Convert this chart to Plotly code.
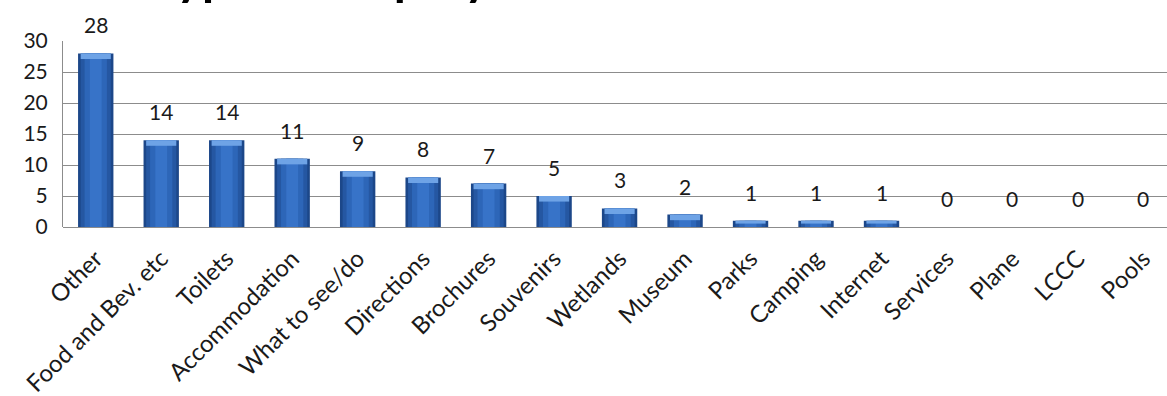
import plotly.graph_objects as go

categories = ["Other", "Food and Bev. etc", "Toilets", "Accommodation", "What to see/do",
              "Directions", "Brochures", "Souvenirs", "Wetlands", "Museum", "Parks",
              "Camping", "Internet", "Services", "Plane", "LCCC", "Pools"]
counts = [28, 14, 14, 11, 9, 8, 7, 5, 3, 2, 1, 1, 1, 0, 0, 0, 0]
y_ticks = [0, 5, 10, 15, 20, 25, 30]
title_text = "Type of enquiry"

W, H = 1167, 396
ML, MR, MT, MB = 63, 0, 41, 169
FONT = "Lato"

fig = go.Figure()
# layered bars to imitate the shaded cylinder look
layers = [(0.54, "#1c4789"), (0.46, "#2557a2"), (0.34, "#2d66b8"), (0.18, "#3773c8")]
for w, c in layers:
    fig.add_trace(go.Bar(x=categories, y=counts, width=w, marker=dict(color=c, line=dict(width=0)),
                         hoverinfo="skip", showlegend=False))
# light bevel cap at the top of each bar
cap = [min(0.9, v * 0.45) for v in counts]
fig.add_trace(go.Bar(x=categories, y=cap, base=[v - c for v, c in zip(counts, cap)], width=0.46,
                     marker=dict(color="#6ea3e6", line=dict(width=0)), hoverinfo="skip", showlegend=False))

for cat, v in zip(categories, counts):
    fig.add_annotation(x=cat, y=v, text=str(v), showarrow=False, yanchor="bottom", yshift=14,
                       font=dict(family=FONT, size=21, color="#1a1a1a"))

plot_w = W - ML - MR
plot_h = H - MT - MB
fig.add_annotation(xref="paper", yref="paper", x=(149 - ML) / plot_w, y=1 + (MT - 7) / plot_h,
                   xanchor="left", yanchor="bottom", text="<b>" + title_text + "</b>", showarrow=False,
                   font=dict(family=FONT, size=49, color="#000000"))

fig.update_layout(
    width=W, height=H, margin=dict(l=ML, r=MR, t=MT, b=MB, pad=0),
    barmode="overlay", plot_bgcolor="white", paper_bgcolor="white",
    font=dict(family=FONT, size=21, color="#1a1a1a"),
    xaxis=dict(type="category", range=[-0.5, 16.36], tickangle=-45, showgrid=False,
               showline=False, ticks="", tickfont=dict(size=24), ticklabelstandoff=12),
    yaxis=dict(range=[0, 30], tickvals=y_ticks, showgrid=True, gridcolor="#8c8c8c", gridwidth=1,
               showline=True, linecolor="#8c8c8c", linewidth=1, ticks="", zeroline=True,
               zerolinecolor="#8c8c8c", zerolinewidth=1, ticklabelstandoff=10),
)
fig.write_html("out.html")
